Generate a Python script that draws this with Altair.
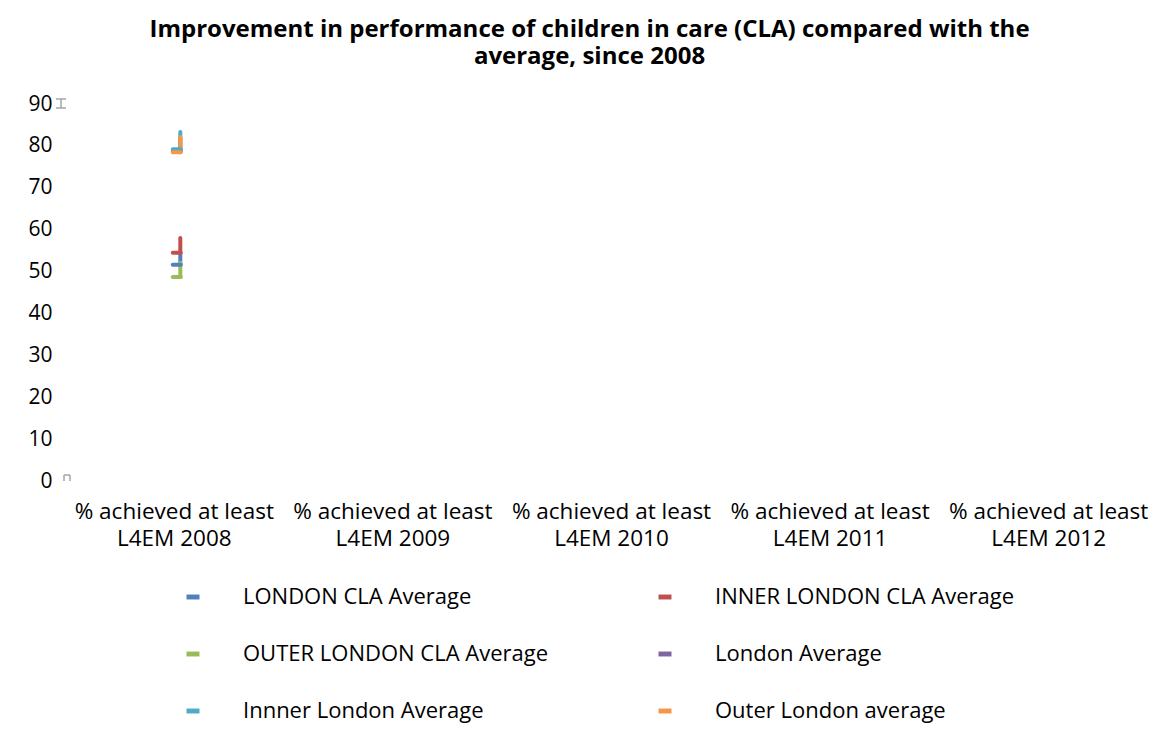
import altair as alt
import pandas as pd

categories = [
    "% achieved at least L4EM 2008",
    "% achieved at least L4EM 2009",
    "% achieved at least L4EM 2010",
    "% achieved at least L4EM 2011",
    "% achieved at least L4EM 2012",
]
series = [
    "LONDON CLA Average",
    "INNER LONDON CLA Average",
    "OUTER LONDON CLA Average",
    "London Average",
    "Innner London Average",
    "Outer London average",
]
colors = ["#4F81BD", "#C0504D", "#9BBB59", "#8064A2", "#4BACC6", "#F79646"]
# value of the dash marker (2008) and top of the vertical stroke
values_2008 = [51.6, 54.5, 48.7, 78.8, 79.2, 78.5]
tops_2008 = [54.2, 58.0, 52.1, 81.8, 83.3, 82.1]

FONT = "Open Sans"

df = pd.DataFrame({
    "cat": [categories[0]] * len(series),
    "series": series,
    "value": values_2008,
    "top": tops_2008,
    "order": list(range(len(series))),
})

xscale = alt.Scale(domain=categories, paddingInner=0, paddingOuter=0)
xenc = alt.X("cat:N", scale=xscale, sort=categories,
             axis=alt.Axis(title=None, domain=False, ticks=False, labelAngle=0,
                           labelAlign="center", labelBaseline="top",
                           labelFontSize=22.5, labelFont=FONT, labelColor="#000000",
                           labelPadding=19, labelLineHeight=27, labelLimit=300,
                           labelExpr="[substring(datum.label,0,19), substring(datum.label,20)]"))
yscale = alt.Scale(domain=[0, 90], nice=False, zero=True)
yenc = alt.Y("value:Q", scale=yscale,
             axis=alt.Axis(title=None, domain=False, ticks=False, grid=False,
                           values=[0, 10, 20, 30, 40, 50, 60, 70, 80, 90],
                           labelFontSize=21, labelFont=FONT, labelColor="#000000",
                           labelPadding=13))
legend = alt.Legend(title=None, orient="none", legendX=117, legendY=482,
                    direction="horizontal",
                    columns=2, columnPadding=105, rowPadding=35,
                    symbolType="M-1,-0.38H1V0.38H-1Z", symbolSize=169,
                    symbolStrokeWidth=0, labelOffset=39,
                    labelFontSize=22, labelFont=FONT, labelColor="#000000",
                    labelLimit=500, padding=0)
cenc = alt.Color("series:N", scale=alt.Scale(domain=series, range=colors), legend=legend)

base = alt.Chart(df)
rules = base.mark_rule(strokeWidth=4, strokeCap="round", xOffset=6).encode(
    x=alt.X("cat:N", bandPosition=0.5, scale=xscale, sort=categories),
    y=alt.Y("value:Q", scale=yscale),
    y2="top:Q",
    color=cenc,
    order="order:Q",
)
ticks = base.mark_tick(size=12, thickness=4, cornerRadius=2, xOffset=2.5, opacity=1).encode(
    x=xenc, y=yenc, color=cenc, order="order:Q",
)

# small grey glyphs at the left of the axis
g = alt.Chart(pd.DataFrame({"v": [0]}))
gcol = "#A6A6A6"
top_glyph = alt.layer(
    g.mark_rule(color=gcol, strokeWidth=1.5).encode(x=alt.value(-9), x2=alt.value(1), y=alt.value(-5)),
    g.mark_rule(color=gcol, strokeWidth=1.5).encode(x=alt.value(-9), x2=alt.value(1), y=alt.value(4)),
    g.mark_rule(color=gcol, strokeWidth=1.5).encode(x=alt.value(-4), y=alt.value(-5), y2=alt.value(4)),
)
bottom_glyph = alt.layer(
    g.mark_rule(color=gcol, strokeWidth=1.5).encode(x=alt.value(-1), x2=alt.value(5), y=alt.value(371)),
    g.mark_rule(color=gcol, strokeWidth=1.5).encode(x=alt.value(-1), y=alt.value(371), y2=alt.value(377)),
    g.mark_rule(color=gcol, strokeWidth=1.5).encode(x=alt.value(5), y=alt.value(371), y2=alt.value(377)),
)

chart = alt.layer(top_glyph, bottom_glyph, rules, ticks).properties(
    width=1093, height=377,
    autosize=alt.AutoSizeParams(type="none"),
    padding={"left": 57, "top": 96, "right": 0, "bottom": 244},
    title=alt.TitleParams(
        text=["Improvement in performance of children in care (CLA) compared with the",
              "average, since 2008"],
        font=FONT, fontSize=24, fontWeight="bold", color="#000000",
        anchor="middle", lineHeight=27, offset=24, dx=-22),
).configure_view(stroke=None)

chart.save("out.html", embed_options={"renderer": "svg", "actions": False})
